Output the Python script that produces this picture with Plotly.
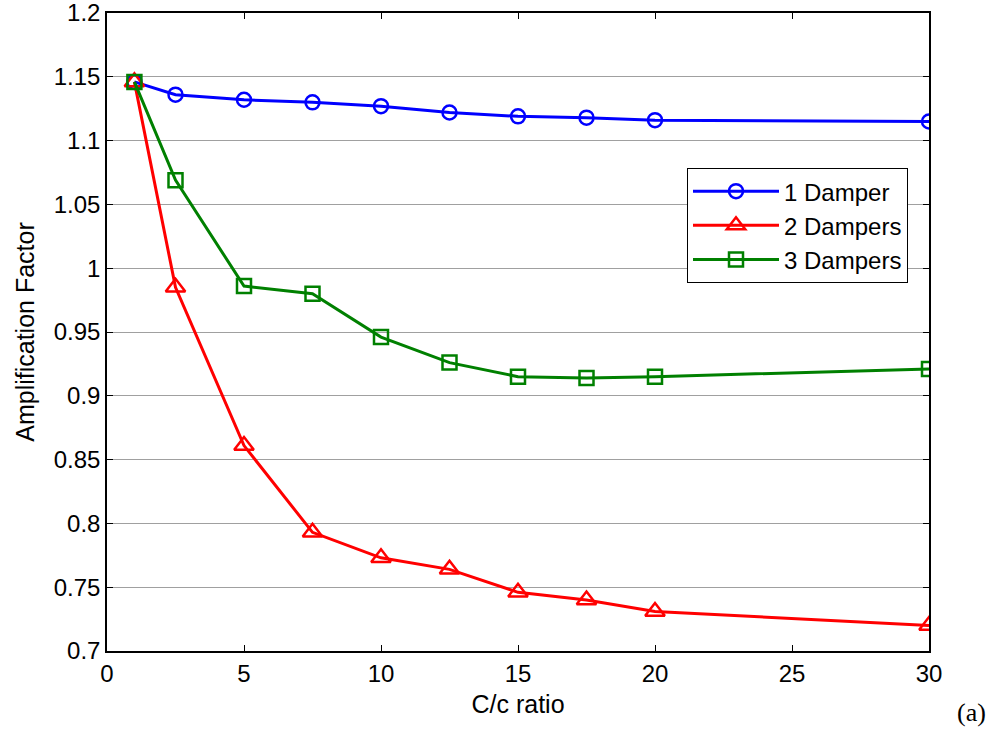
import plotly.graph_objects as go

ratio = [1, 2.5, 5, 7.5, 10, 12.5, 15, 17.5, 20, 30]
one_damper = [1.146, 1.136, 1.132, 1.130, 1.127, 1.122, 1.119, 1.118, 1.116, 1.115]
two_dampers = [1.146, 0.985, 0.861, 0.793, 0.773, 0.764, 0.746, 0.740, 0.731, 0.720]
three_dampers = [1.146, 1.069, 0.986, 0.980, 0.946, 0.926, 0.915, 0.914, 0.915, 0.921]

x_ticks = [0, 5, 10, 15, 20, 25, 30]
y_ticks = [0.7, 0.75, 0.8, 0.85, 0.9, 0.95, 1.0, 1.05, 1.1, 1.15, 1.2]
y_tick_text = ["0.7", "0.75", "0.8", "0.85", "0.9", "0.95", "1", "1.05", "1.1", "1.15", "1.2"]

fig = go.Figure()
fig.add_trace(go.Scatter(x=ratio, y=one_damper, name="1 Damper", mode="lines+markers",
                         line=dict(color="#0000ff", width=3),
                         marker=dict(symbol="circle-open", size=14, color="#0000ff", line=dict(width=2.5))))
fig.add_trace(go.Scatter(x=ratio, y=two_dampers, name="2 Dampers", mode="lines+markers",
                         line=dict(color="#ff0000", width=3),
                         marker=dict(symbol="triangle-up-open", size=17, color="#ff0000", line=dict(width=2.5))))
fig.add_trace(go.Scatter(x=ratio, y=three_dampers, name="3 Dampers", mode="lines+markers",
                         line=dict(color="#008000", width=3),
                         marker=dict(symbol="square-open", size=14, color="#008000", line=dict(width=2.5))))

font = "Liberation Sans, Arial, sans-serif"
fig.update_layout(
    width=990, height=731,
    margin=dict(l=107, r=61, t=13, b=80, autoexpand=False),
    paper_bgcolor="white", plot_bgcolor="white",
    font=dict(family=font, size=24, color="black"),
    showlegend=True,
    legend=dict(x=0.7056, y=0.757, xanchor="left", yanchor="top",
                bgcolor="white", bordercolor="black", borderwidth=1,
                font=dict(family=font, size=24), tracegroupgap=0, itemwidth=86),
    xaxis=dict(range=[0, 30], tickvals=x_ticks, showgrid=False, zeroline=False, automargin=False,
               showline=True, linecolor="black", linewidth=1.5, mirror="ticks",
               ticks="inside", ticklen=6, tickcolor="black",
               title=dict(text="C/c ratio", standoff=10, font=dict(family=font, size=25)),
               tickfont=dict(family=font, size=24), ticklabeloverflow="allow"),
    yaxis=dict(range=[0.7, 1.2], tickvals=y_ticks, ticktext=y_tick_text,
               showgrid=True, gridcolor="#a0a0a0", gridwidth=1, zeroline=False, automargin=False,
               showline=True, linecolor="black", linewidth=1.5, mirror="ticks",
               ticks="inside", ticklen=6, tickcolor="black",
               title=dict(text="Amplification Factor", standoff=12, font=dict(family=font, size=25)),
               tickfont=dict(family=font, size=24), ticklabeloverflow="allow"),
    annotations=[dict(text="(a)", x=(955 - 107) / 822, y=(651 - 712) / 638, xref="paper", yref="paper",
                      xanchor="left", yanchor="middle", showarrow=False,
                      font=dict(family="Liberation Serif, Times New Roman, serif", size=26))]
)

fig.write_html("out.html")
